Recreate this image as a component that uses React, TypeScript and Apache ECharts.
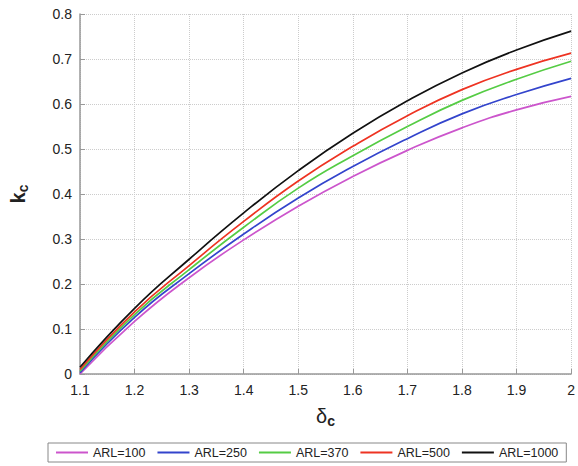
import React, { useEffect, useRef } from "react";
import * as echarts from "echarts";

const deltaC = [1.1, 1.2, 1.3, 1.4, 1.5, 1.6, 1.7, 1.8, 1.9, 2.0];
const arl100 = [0.0, 0.117, 0.214, 0.298, 0.373, 0.439, 0.497, 0.547, 0.587, 0.617];
const arl250 = [0.003, 0.126, 0.223, 0.311, 0.391, 0.461, 0.523, 0.578, 0.621, 0.657];
const arl370 = [0.006, 0.132, 0.232, 0.326, 0.413, 0.485, 0.55, 0.608, 0.655, 0.695];
const arl500 = [0.01, 0.138, 0.241, 0.339, 0.429, 0.506, 0.574, 0.632, 0.677, 0.713];
const arl1000 = [0.015, 0.146, 0.255, 0.358, 0.452, 0.535, 0.607, 0.669, 0.72, 0.762];
const seriesNames = ["ARL=100", "ARL=250", "ARL=370", "ARL=500", "ARL=1000"];
const seriesColors = ["#cc55cc", "#3344cc", "#55cc44", "#ee3322", "#111111"];
const xTicks = [1.1, 1.2, 1.3, 1.4, 1.5, 1.6, 1.7, 1.8, 1.9, 2];

export default function App() {
  const ref = useRef<HTMLDivElement>(null);
  useEffect(() => {
    if (!ref.current) return;
    const chart = echarts.init(ref.current, null, { renderer: "svg" });
    const all = [arl100, arl250, arl370, arl500, arl1000];
    const font = "Liberation Sans, Arial, sans-serif";
    chart.setOption({
      animation: false,
      backgroundColor: "#fff",
      textStyle: { fontFamily: font },
      grid: { left: 77, right: 1, top: 14, bottom: 92, containLabel: false },
      legend: {
        left: 48,
        top: 443,
        width: 530,
        data: seriesNames,
        icon: "rect",
        itemWidth: 32,
        itemHeight: 2,
        itemGap: 12,
        padding: [3, 8],
        borderColor: "#888",
        borderWidth: 1,
        textStyle: { fontSize: 12.5, color: "#222", fontFamily: font },
      },
      xAxis: {
        type: "value",
        min: 1.1,
        max: 2,
        interval: 0.1,
        name: "{d|δ}{c|c}",
        nameLocation: "middle",
        nameGap: 30,
        nameTextStyle: {
          rich: {
            d: { fontSize: 20, color: "#222", fontFamily: font },
            c: { fontSize: 14, fontWeight: "bold", color: "#222", padding: [10, 0, 0, 0], fontFamily: font },
          },
        },
        axisLine: { show: true, lineStyle: { color: "#999", width: 1.5 } },
        axisTick: { show: true, inside: true, length: 5, lineStyle: { color: "#999" } },
        axisLabel: {
          fontSize: 14,
          color: "#222",
          margin: 9,
          formatter: (v: number) => {
            const r = Math.round(v * 10) / 10;
            return xTicks.includes(r) ? String(r) : "";
          },
        },
        splitLine: { show: true, lineStyle: { color: "#ccc", type: "dotted" } },
      },
      yAxis: {
        type: "value",
        min: 0,
        max: 0.8,
        interval: 0.1,
        name: "{k|k}{c|c}",
        nameLocation: "middle",
        nameRotate: 90,
        nameGap: 50,
        nameTextStyle: {
          rich: {
            k: { fontSize: 20, fontWeight: "bold", color: "#222", fontFamily: font },
            c: { fontSize: 14, fontWeight: "bold", color: "#222", padding: [10, 0, 0, 0], fontFamily: font },
          },
        },
        axisLine: { show: true, lineStyle: { color: "#999", width: 1.5 } },
        axisTick: { show: true, inside: true, length: 5, lineStyle: { color: "#999" } },
        axisLabel: {
          fontSize: 14,
          color: "#222",
          margin: 8,
          formatter: (v: number) => String(Math.round(v * 10) / 10),
        },
        splitLine: { show: true, lineStyle: { color: "#ccc", type: "dotted" } },
      },
      series: seriesNames.map((name, i) => ({
        name,
        type: "line",
        smooth: 0.5,
        showSymbol: false,
        symbol: "none",
        color: seriesColors[i],
        lineStyle: { width: 1.7, color: seriesColors[i] },
        data: deltaC.map((x, j) => [x, all[i][j]]),
      })),
    });
    return () => chart.dispose();
  }, []);
  return <div ref={ref} style={{ width: 578, height: 466, position: "absolute", left: 0, top: 0 }} />;
}
